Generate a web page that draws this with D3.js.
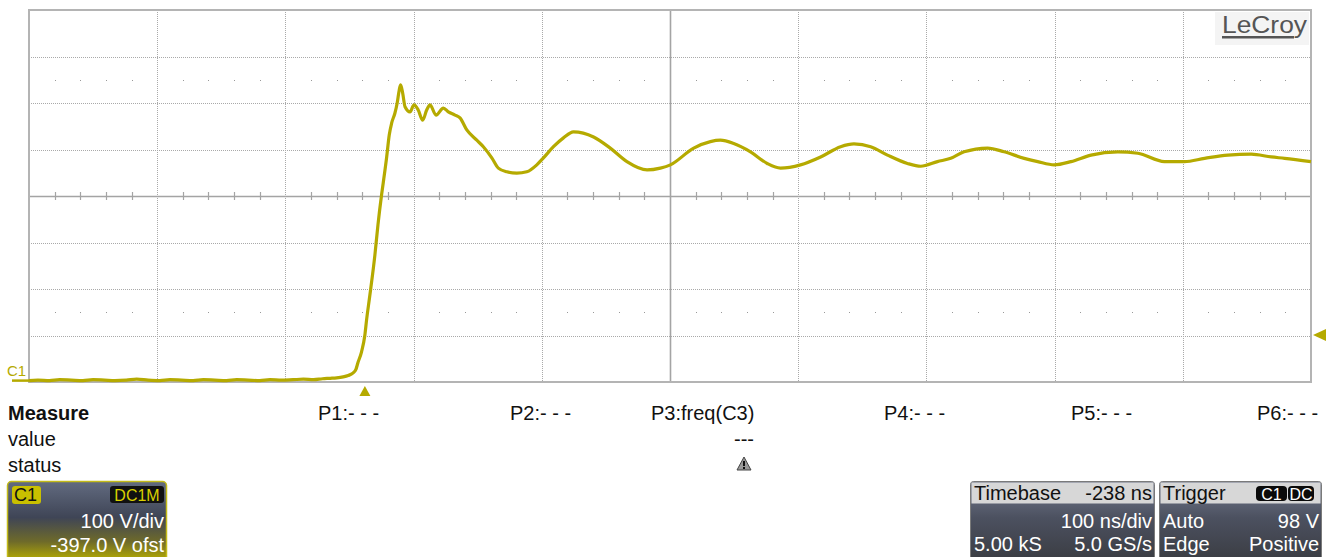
<!DOCTYPE html>
<html><head><meta charset="utf-8">
<script src="https://cdn.jsdelivr.net/npm/d3@7"></script>
<style>
html,body{margin:0;padding:0;background:#fff;}
svg{display:block;font-family:"Liberation Sans",Arial,sans-serif;}
</style></head><body>
<svg id="scope" width="1333" height="557"></svg>
<script>
// Channel C1 record: time in ns relative to the trigger, amplitude in volts
const timeNs = [-262,-255,-246,-238,-229,-220,-212,-203,-195,-186,-178,-169,-160,-152,-143,-134,-126,-117,-108,-100,-91,-82,-74,-65,-56,-48,-40,-33,-27,-22,-17,-13,-9.4,-7,-5.5,-2.6,0,1.3,3.9,7.8,10.2,13,14.3,17,19,20.9,23.4,25.2,26.8,27.9,29.5,31.3,35.2,38.3,41.6,45.1,48.2,50.8,55.5,61.2,65.1,70.3,74.2,79.5,87.3,92.4,99,104.1,110.7,118.5,126.3,134.1,139.3,147.1,154.9,162.7,178.4,191.4,204.4,220.1,230.5,238.3,256.5,269.5,277.3,287.7,300.8,313.8,324.2,339.8,355.5,371.1,381.5,394.5,407.6,423.2,433.6,446.6,457,467.4,485.7,498.7,514.3,524.8,537.7,550.8,566.4,587.3,602.9,623.7,639.3,655,673.2,691.4,707,717.4,738];
const voltsV = [0,1,0,2,1,0,2,1,0,1,3,1,0,2,1,0,2,1,0,2,1,0,2,1,2,3,2,4,5,6,8,11,16,24,38,62,98,130,184,270,335,399,425,481,528,554,575,597,625,636,618,589,578,593,582,560,582,593,571,586,578,571,565,539,517,503,479,457,449,446,449,464,479,503,522,535,524,500,471,453,457,464,500,514,517,510,492,467,457,464,481,503,509,503,485,467,461,471,478,492,500,492,478,471,464,471,485,492,489,471,471,478,485,487,481,478,471];

// Vertical and horizontal settings
const voltsPerDiv = 100;
const offsetV = -397;
const nsPerDiv = 100;
const delayNs = -238;
const hDivs = 10;
const vDivs = 8;
const minorPerDiv = 5;
const triggerLevelV = 98;
const sampleCount = "5.00 kS";
const sampleRate = "5.0 GS/s";

// Measurement table
const measureHeads = ["Measure", "value", "status"];
const paramLabels = ["P1:- - -", "P2:- - -", "P3:freq(C3)", "P4:- - -", "P5:- - -", "P6:- - -"];
const paramX = [318, 510, 651, 884, 1071, 1257];
const p3Value = "---";

const traceColor = "#b5aa00";
const gridColor = "#a9a9a9";

const svg = d3.select("#scope");
const defs = svg.append("defs");

const plot = {left: 29, right: 1311, top: 10, bottom: 382};
const tCenter = -delayNs;
const vCenter = -offsetV;
const x = d3.scaleLinear()
  .domain([tCenter - nsPerDiv * hDivs / 2, tCenter + nsPerDiv * hDivs / 2])
  .range([plot.left, plot.right]);
const y = d3.scaleLinear()
  .domain([vCenter - voltsPerDiv * vDivs / 2, vCenter + voltsPerDiv * vDivs / 2])
  .range([plot.bottom, plot.top]);

const g = svg.append("g");

// Dotted division grid
const xDivs = d3.range(1, hDivs).map(i => x.domain()[0] + i * nsPerDiv);
const yDivs = d3.range(1, vDivs).map(i => y.domain()[0] + i * voltsPerDiv);
g.selectAll("line.vgrid").data(xDivs.filter(t => t !== tCenter)).join("line")
  .attr("x1", d => Math.round(x(d)) + 0.5).attr("x2", d => Math.round(x(d)) + 0.5)
  .attr("y1", plot.top).attr("y2", plot.bottom)
  .attr("stroke", gridColor).attr("stroke-width", 1).attr("stroke-dasharray", "1,1");
g.selectAll("line.hgrid").data(yDivs.filter(v => v !== vCenter)).join("line")
  .attr("x1", plot.left).attr("x2", plot.right)
  .attr("y1", d => Math.round(y(d)) + 0.5).attr("y2", d => Math.round(y(d)) + 0.5)
  .attr("stroke", gridColor).attr("stroke-width", 1).attr("stroke-dasharray", "1,1");

// Minor dots half-way into the outer rows
const minorT = d3.range(0, hDivs * minorPerDiv).map(i => x.domain()[0] + i * nsPerDiv / minorPerDiv)
  .filter((t, i) => i % minorPerDiv !== 0);
[vCenter + 2.5 * voltsPerDiv, vCenter - 2.5 * voltsPerDiv].forEach(v => {
  g.selectAll(null).data(minorT).join("rect")
    .attr("x", d => Math.round(x(d))).attr("y", Math.round(y(v)))
    .attr("width", 1).attr("height", 1).attr("fill", "#999");
});

// Centre cross with minor ticks
g.append("line").attr("x1", plot.left).attr("x2", plot.right)
  .attr("y1", Math.round(y(vCenter)) + 0.5).attr("y2", Math.round(y(vCenter)) + 0.5)
  .attr("stroke", "#a4a4a4").attr("stroke-width", 1.6);
g.append("line").attr("x1", Math.round(x(tCenter)) + 0.5).attr("x2", Math.round(x(tCenter)) + 0.5)
  .attr("y1", plot.top).attr("y2", plot.bottom)
  .attr("stroke", "#a4a4a4").attr("stroke-width", 1.6);
g.selectAll("line.tick").data(minorT).join("line")
  .attr("x1", d => Math.round(x(d)) + 0.5).attr("x2", d => Math.round(x(d)) + 0.5)
  .attr("y1", y(vCenter) - 4).attr("y2", y(vCenter) + 4)
  .attr("stroke", "#a4a4a4").attr("stroke-width", 1.2);

// Outer frame
g.append("rect").attr("x", plot.left).attr("y", plot.top)
  .attr("width", plot.right - plot.left).attr("height", plot.bottom - plot.top)
  .attr("fill", "none").attr("stroke", "#b4b4b4").attr("stroke-width", 2);

// Logo
const logo = svg.append("g");
logo.append("rect").attr("x", 1215).attr("y", 12).attr("width", 94).attr("height", 33).attr("fill", "#f4f4f4");
logo.append("text").attr("x", 1222).attr("y", 33).attr("font-size", 23).attr("fill", "#555")
  .attr("textLength", 85).attr("lengthAdjust", "spacingAndGlyphs").text("LeCroy");
logo.append("rect").attr("x", 1222).attr("y", 36).attr("width", 72).attr("height", 2.5).attr("fill", "#555");

// Ground reference stub and channel label
svg.append("line").attr("x1", 12).attr("x2", plot.left).attr("y1", y(0)).attr("y2", y(0))
  .attr("stroke", traceColor).attr("stroke-width", 2.5);
svg.append("text").attr("x", 7).attr("y", y(0) - 5).attr("font-size", 15).attr("fill", traceColor).text("C1");

// Waveform
const pts = timeNs.map((t, i) => [t, voltsV[i]]);
const line = d3.line().x(d => x(d[0])).y(d => y(d[1])).curve(d3.curveMonotoneX);
svg.append("path").datum(pts).attr("d", line).attr("fill", "none")
  .attr("stroke", traceColor).attr("stroke-width", 3.2).attr("stroke-linejoin", "round");

// Trigger position and level markers
const tx = x(0);
svg.append("path").attr("d", `M${tx - 5.5},396 L${tx},386 L${tx + 5.5},396 Z`).attr("fill", traceColor);
const ty = y(triggerLevelV);
svg.append("path").attr("d", `M${plot.right + 2},${ty} L${plot.right + 15},${ty - 6} L${plot.right + 15},${ty + 6} Z`).attr("fill", traceColor);

// Measurement table
const mt = svg.append("g").attr("font-size", 20).attr("fill", "#111");
mt.append("text").attr("x", 8).attr("y", 420).attr("font-weight", "bold").text(measureHeads[0]);
mt.append("text").attr("x", 8).attr("y", 446).text(measureHeads[1]);
mt.append("text").attr("x", 8).attr("y", 472).text(measureHeads[2]);
mt.selectAll("text.p").data(paramLabels).join("text").attr("class", "p")
  .attr("x", (d, i) => paramX[i]).attr("y", 420).text(d => d);
mt.append("text").attr("x", 744).attr("y", 446).attr("text-anchor", "middle").text(p3Value);
// Warning glyph under P3
const warn = svg.append("g").attr("transform", "translate(744,464)");
warn.append("path").attr("d", "M0,-7 L7,6 L-7,6 Z").attr("fill", "#9a9a9a").attr("stroke", "#444").attr("stroke-width", 1);
warn.append("rect").attr("x", -1).attr("y", -3).attr("width", 2).attr("height", 5).attr("fill", "#111");
warn.append("rect").attr("x", -1).attr("y", 3).attr("width", 2).attr("height", 2).attr("fill", "#111");

// Gradients for the descriptor boxes
const gC1 = defs.append("linearGradient").attr("id", "gC1").attr("x1", 0).attr("y1", 0).attr("x2", 0).attr("y2", 1);
gC1.append("stop").attr("offset", "0%").attr("stop-color", "#626b80");
gC1.append("stop").attr("offset", "45%").attr("stop-color", "#3f4556");
gC1.append("stop").attr("offset", "75%").attr("stop-color", "#6e6a2a");
gC1.append("stop").attr("offset", "100%").attr("stop-color", "#b9b000");
const gBox = defs.append("linearGradient").attr("id", "gBox").attr("x1", 0).attr("y1", 0).attr("x2", 0).attr("y2", 1);
gBox.append("stop").attr("offset", "0%").attr("stop-color", "#737a8e");
gBox.append("stop").attr("offset", "45%").attr("stop-color", "#4c5160");
gBox.append("stop").attr("offset", "100%").attr("stop-color", "#3a3c42");

// C1 descriptor
const c1 = svg.append("g").attr("font-size", 20);
c1.append("rect").attr("x", 7.5).attr("y", 481.5).attr("width", 159).attr("height", 80).attr("rx", 4)
  .attr("fill", "url(#gC1)").attr("stroke", "#c4bb18").attr("stroke-width", 1.5);
c1.append("rect").attr("x", 12).attr("y", 486).attr("width", 29).attr("height", 18).attr("rx", 3).attr("fill", "#c9c000");
c1.append("text").attr("x", 14).attr("y", 501).attr("font-size", 18).attr("fill", "#111").text("C1");
c1.append("rect").attr("x", 110).attr("y", 486).attr("width", 54).attr("height", 17).attr("rx", 3).attr("fill", "#111");
c1.append("text").attr("x", 137).attr("y", 500.5).attr("font-size", 16).attr("text-anchor", "middle").attr("fill", "#d9d000").text("DC1M");
c1.append("text").attr("x", 164).attr("y", 528).attr("text-anchor", "end").attr("fill", "#fff").text(`${voltsPerDiv} V/div`);
c1.append("text").attr("x", 164).attr("y", 552).attr("text-anchor", "end").attr("fill", "#fff").text(`${offsetV.toFixed(1)} V ofst`);

// Timebase and trigger descriptors
function box(x0, w, title) {
  const b = svg.append("g").attr("font-size", 20);
  b.append("rect").attr("x", x0 + 0.5).attr("y", 481.5).attr("width", w).attr("height", 80).attr("rx", 3)
    .attr("fill", "url(#gBox)").attr("stroke", "#7a7a7a");
  b.append("rect").attr("x", x0 + 1.5).attr("y", 482.5).attr("width", w - 2).attr("height", 21).attr("fill", "#d7d7d7");
  b.append("text").attr("x", x0 + 4).attr("y", 500).attr("fill", "#111").text(title);
  return b;
}
const tb = box(970, 184, "Timebase");
tb.append("text").attr("x", 1152).attr("y", 500).attr("text-anchor", "end").attr("fill", "#111").text(`${delayNs} ns`);
tb.append("text").attr("x", 1152).attr("y", 528).attr("text-anchor", "end").attr("fill", "#fff").text(`${nsPerDiv} ns/div`);
tb.append("text").attr("x", 974).attr("y", 551).attr("fill", "#fff").text(sampleCount);
tb.append("text").attr("x", 1152).attr("y", 551).attr("text-anchor", "end").attr("fill", "#fff").text(sampleRate);

const tr = box(1159, 162, "Trigger");
[["C1", 1256, 31], ["DC", 1288, 26]].forEach(([s, px, w]) => {
  tr.append("rect").attr("x", px).attr("y", 486).attr("width", w).attr("height", 15).attr("rx", 4).attr("fill", "#0a0a0a");
  tr.append("text").attr("x", px + w / 2).attr("y", 499.5).attr("text-anchor", "middle").attr("font-size", 16)
    .attr("fill", "#fff").text(s);
});
tr.append("text").attr("x", 1163).attr("y", 528).attr("fill", "#fff").text("Auto");
tr.append("text").attr("x", 1319).attr("y", 528).attr("text-anchor", "end").attr("fill", "#fff").text(`${triggerLevelV} V`);
tr.append("text").attr("x", 1163).attr("y", 551).attr("fill", "#fff").text("Edge");
tr.append("text").attr("x", 1319).attr("y", 551).attr("text-anchor", "end").attr("fill", "#fff").text("Positive");
</script>
</body></html>
